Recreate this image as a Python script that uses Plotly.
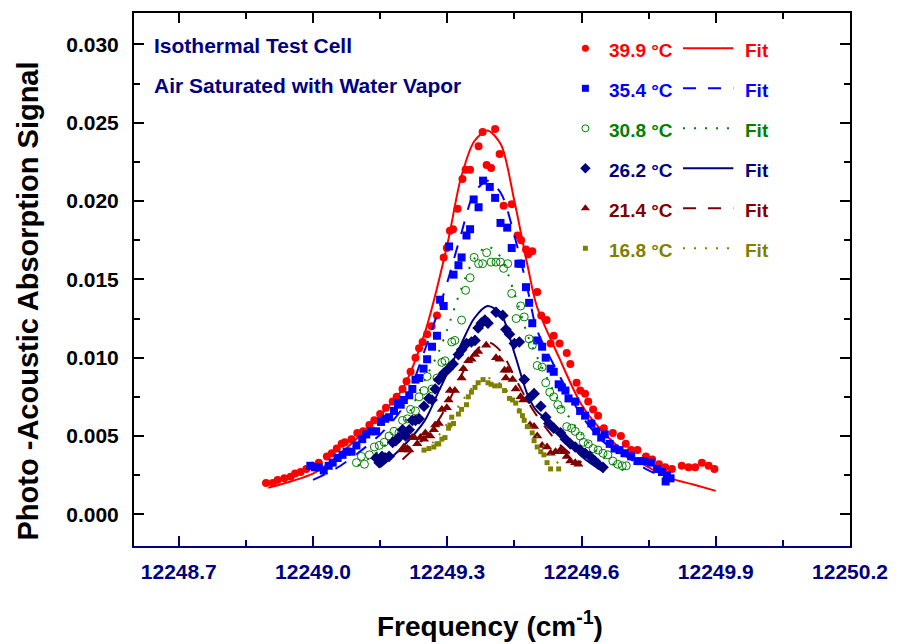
import plotly.graph_objects as go

# ---------------- data ----------------
x_tick_labels = ["12248.7", "12249.0", "12249.3", "12249.6", "12249.9", "12250.2"]
y_tick_labels = ["0.000", "0.005", "0.010", "0.015", "0.020", "0.025", "0.030"]
temps = ["39.9", "35.4", "30.8", "26.2", "21.4", "16.8"]

red_x = [12248.895, 12248.910, 12248.921, 12248.936, 12248.950, 12248.960, 12248.972, 12248.985, 12248.998, 12249.013,
         12249.031, 12249.042, 12249.053, 12249.064, 12249.071, 12249.086, 12249.099, 12249.112, 12249.126, 12249.137,
         12249.150, 12249.163, 12249.178, 12249.187, 12249.200, 12249.209, 12249.218, 12249.229, 12249.237, 12249.245,
         12249.255, 12249.265, 12249.277, 12249.292, 12249.299, 12249.306, 12249.313, 12249.323, 12249.334, 12249.341,
         12249.351, 12249.370, 12249.379, 12249.388, 12249.398, 12249.407, 12249.417, 12249.426, 12249.444, 12249.457,
         12249.465, 12249.476, 12249.481, 12249.490, 12249.501, 12249.510, 12249.522, 12249.531, 12249.538, 12249.551,
         12249.567, 12249.575, 12249.589, 12249.597, 12249.608, 12249.615, 12249.626, 12249.637, 12249.650, 12249.670,
         12249.688, 12249.699, 12249.711, 12249.725, 12249.744, 12249.758, 12249.773, 12249.787, 12249.802, 12249.824,
         12249.839, 12249.854, 12249.869, 12249.884, 12249.897]
red_y = [0.0020, 0.0020, 0.0022, 0.0023, 0.0024, 0.0026, 0.0027, 0.0029, 0.0031, 0.0033,
         0.0037, 0.0039, 0.0042, 0.0045, 0.0046, 0.0048, 0.0052, 0.0053, 0.0057, 0.0060,
         0.0064, 0.0068, 0.0072, 0.0075, 0.0080, 0.0085, 0.0091, 0.0100, 0.0106, 0.0110,
         0.0115, 0.0120, 0.0127, 0.0164, 0.0170, 0.0181, 0.0182, 0.0195, 0.0214, 0.0220,
         0.0220, 0.0235, 0.0244, 0.0223, 0.0221, 0.0246, 0.0230, 0.0197, 0.0198, 0.0178,
         0.0175, 0.0169, 0.0166, 0.0168, 0.0142, 0.0127, 0.0124, 0.0109, 0.0114, 0.0109,
         0.0103, 0.0096, 0.0084, 0.0079, 0.0077, 0.0072, 0.0067, 0.0063, 0.0055, 0.0052,
         0.0050, 0.0045, 0.0041, 0.0041, 0.0037, 0.0035, 0.0032, 0.0030, 0.0029, 0.0031,
         0.0030, 0.0030, 0.0033, 0.0031, 0.0029]

blue_x = [12248.994, 12249.004, 12249.013, 12249.024, 12249.035, 12249.044, 12249.055, 12249.066, 12249.075, 12249.086,
          12249.097, 12249.110, 12249.119, 12249.130, 12249.141, 12249.152, 12249.161, 12249.170, 12249.181, 12249.190,
          12249.196, 12249.203, 12249.215, 12249.222, 12249.229, 12249.237, 12249.247, 12249.255, 12249.266, 12249.277,
          12249.284, 12249.292, 12249.304, 12249.314, 12249.325, 12249.332, 12249.343, 12249.351, 12249.359, 12249.370,
          12249.380, 12249.395, 12249.407, 12249.419, 12249.434, 12249.444, 12249.459, 12249.465, 12249.476, 12249.483,
          12249.490, 12249.501, 12249.512, 12249.520, 12249.531, 12249.538, 12249.549, 12249.556, 12249.564, 12249.571,
          12249.586, 12249.597, 12249.608, 12249.622, 12249.633, 12249.644, 12249.652, 12249.663, 12249.674, 12249.685,
          12249.696, 12249.711, 12249.725, 12249.740, 12249.755, 12249.769, 12249.780, 12249.791, 12249.799, 12249.788]
blue_y = [0.0031, 0.0030, 0.0030, 0.0028, 0.0031, 0.0033, 0.0036, 0.0038, 0.0040, 0.0040,
          0.0044, 0.0048, 0.0051, 0.0053, 0.0053, 0.0059, 0.0061, 0.0062, 0.0066, 0.0071,
          0.0070, 0.0073, 0.0076, 0.0080, 0.0086, 0.0087, 0.0093, 0.0099, 0.0107, 0.0114,
          0.0137, 0.0133, 0.0171, 0.0153, 0.0159, 0.0164, 0.0178, 0.0182, 0.0201, 0.0196,
          0.0213, 0.0209, 0.0202, 0.0186, 0.0183, 0.0170, 0.0160, 0.0160, 0.0145, 0.0135,
          0.0122, 0.0111, 0.0107, 0.0100, 0.0093, 0.0091, 0.0083, 0.0081, 0.0079, 0.0074,
          0.0072, 0.0066, 0.0063, 0.0058, 0.0053, 0.0049, 0.0051, 0.0045, 0.0042, 0.0041,
          0.0039, 0.0037, 0.0034, 0.0034, 0.0033, 0.0029, 0.0027, 0.0025, 0.0023, 0.0021]

green_x = [12249.097, 12249.108, 12249.115, 12249.126, 12249.137, 12249.148, 12249.159, 12249.170, 12249.181, 12249.192,
           12249.200, 12249.211, 12249.218, 12249.229, 12249.237, 12249.248, 12249.255, 12249.266, 12249.277, 12249.288,
           12249.295, 12249.310, 12249.317, 12249.332, 12249.341, 12249.351, 12249.360, 12249.370, 12249.379, 12249.388,
           12249.398, 12249.409, 12249.419, 12249.426, 12249.435, 12249.444, 12249.454, 12249.464, 12249.472, 12249.483,
           12249.490, 12249.501, 12249.512, 12249.520, 12249.529, 12249.538, 12249.547, 12249.554, 12249.567, 12249.578,
           12249.586, 12249.597, 12249.604, 12249.615, 12249.626, 12249.637, 12249.648, 12249.659, 12249.670, 12249.681,
           12249.691, 12249.700]
green_y = [0.0033, 0.0037, 0.0032, 0.0038, 0.0043, 0.0044, 0.0046, 0.0050, 0.0053, 0.0052,
           0.0060, 0.0061, 0.0067, 0.0066, 0.0075, 0.0079, 0.0088, 0.0080, 0.0087, 0.0097,
           0.0098, 0.0110, 0.0111, 0.0124, 0.0143, 0.0151, 0.0164, 0.0160, 0.0160, 0.0167,
           0.0161, 0.0161, 0.0161, 0.0157, 0.0160, 0.0141, 0.0125, 0.0133, 0.0126, 0.0112,
           0.0108, 0.0095, 0.0094, 0.0084, 0.0078, 0.0075, 0.0070, 0.0067, 0.0056, 0.0055,
           0.0053, 0.0050, 0.0046, 0.0045, 0.0042, 0.0041, 0.0039, 0.0038, 0.0034, 0.0032,
           0.0031, 0.0031]

navy_x = [12249.141, 12249.148, 12249.154, 12249.161, 12249.170, 12249.178, 12249.185, 12249.192, 12249.200, 12249.207,
          12249.215, 12249.222, 12249.229, 12249.237, 12249.248, 12249.259, 12249.266, 12249.273, 12249.281, 12249.292,
          12249.303, 12249.313, 12249.325, 12249.332, 12249.343, 12249.354, 12249.362, 12249.369, 12249.376, 12249.384,
          12249.391, 12249.409, 12249.424, 12249.431, 12249.439, 12249.450, 12249.461, 12249.472, 12249.483, 12249.494,
          12249.509, 12249.520, 12249.527, 12249.538, 12249.553, 12249.564, 12249.575, 12249.586, 12249.597, 12249.608,
          12249.619, 12249.630, 12249.637, 12249.648]
navy_y = [0.0036, 0.0033, 0.0037, 0.0036, 0.0037, 0.0046, 0.0047, 0.0049, 0.0054, 0.0050,
          0.0054, 0.0060, 0.0060, 0.0061, 0.0069, 0.0074, 0.0073, 0.0080, 0.0086, 0.0090,
          0.0093, 0.0096, 0.0102, 0.0105, 0.0109, 0.0110, 0.0111, 0.0119, 0.0122, 0.0124,
          0.0122, 0.0129, 0.0127, 0.0118, 0.0115, 0.0109, 0.0110, 0.0086, 0.0074, 0.0077,
          0.0069, 0.0062, 0.0058, 0.0055, 0.0052, 0.0048, 0.0045, 0.0043, 0.0041, 0.0039,
          0.0037, 0.0034, 0.0032, 0.0030]

darkred_x = [12249.200, 12249.203, 12249.211, 12249.215, 12249.222, 12249.226, 12249.233, 12249.240, 12249.248, 12249.251,
             12249.262, 12249.270, 12249.273, 12249.281, 12249.288, 12249.299, 12249.303, 12249.306, 12249.317, 12249.332,
             12249.336, 12249.347, 12249.354, 12249.362, 12249.369, 12249.387, 12249.409, 12249.417, 12249.428, 12249.435,
             12249.431, 12249.446, 12249.453, 12249.464, 12249.470, 12249.485, 12249.494, 12249.501, 12249.512, 12249.523,
             12249.531, 12249.542, 12249.553, 12249.560, 12249.567, 12249.575, 12249.586, 12249.593]
darkred_y = [0.0041, 0.0043, 0.0042, 0.0041, 0.0049, 0.0049, 0.0045, 0.0049, 0.0048, 0.0052,
             0.0050, 0.0054, 0.0057, 0.0058, 0.0067, 0.0068, 0.0073, 0.0079, 0.0079, 0.0087,
             0.0093, 0.0098, 0.0099, 0.0102, 0.0104, 0.0108, 0.0100, 0.0099, 0.0092, 0.0092,
             0.0087, 0.0086, 0.0080, 0.0075, 0.0073, 0.0057, 0.0056, 0.0050, 0.0044, 0.0043,
             0.0039, 0.0040, 0.0041, 0.0040, 0.0037, 0.0034, 0.0033, 0.0032]

olive_x = [12249.248, 12249.259, 12249.270, 12249.277, 12249.281, 12249.288, 12249.295, 12249.303, 12249.306, 12249.310,
           12249.314, 12249.325, 12249.332, 12249.343, 12249.347, 12249.354, 12249.362, 12249.369, 12249.380, 12249.391,
           12249.398, 12249.406, 12249.417, 12249.428, 12249.439, 12249.446, 12249.453, 12249.461, 12249.468, 12249.472,
           12249.479, 12249.490, 12249.494, 12249.501, 12249.509, 12249.516, 12249.523, 12249.531, 12249.549]
olive_y = [0.0041, 0.0042, 0.0043, 0.0045, 0.0045, 0.0048, 0.0049, 0.0055, 0.0057, 0.0062,
           0.0058, 0.0064, 0.0067, 0.0070, 0.0075, 0.0078, 0.0081, 0.0084, 0.0086, 0.0084,
           0.0083, 0.0082, 0.0082, 0.0079, 0.0074, 0.0073, 0.0071, 0.0066, 0.0063, 0.0060,
           0.0056, 0.0052, 0.0047, 0.0043, 0.0040, 0.0038, 0.0033, 0.0029, 0.0029]

red_fit_x = [12248.90, 12248.95, 12249.00, 12249.05, 12249.10, 12249.15, 12249.20, 12249.25, 12249.30, 12249.33,
             12249.36, 12249.39, 12249.42, 12249.45, 12249.48, 12249.50, 12249.55, 12249.60, 12249.65, 12249.70,
             12249.75, 12249.80, 12249.85, 12249.90]
red_fit_y = [0.0017, 0.0021, 0.0026, 0.0036, 0.0049, 0.0063, 0.0080, 0.0116, 0.0172, 0.0214,
             0.0238, 0.0245, 0.0236, 0.0200, 0.0158, 0.0133, 0.0100, 0.0070, 0.0052, 0.0039,
             0.0030, 0.0023, 0.0019, 0.0015]

blue_fit_x = [12249.00, 12249.05, 12249.10, 12249.15, 12249.20, 12249.25, 12249.28, 12249.30, 12249.33, 12249.36,
              12249.39, 12249.42, 12249.45, 12249.48, 12249.50, 12249.55, 12249.60, 12249.65, 12249.70, 12249.75,
              12249.80]
blue_fit_y = [0.0022, 0.0029, 0.0039, 0.0051, 0.0068, 0.0105, 0.0130, 0.0148, 0.0178, 0.0205,
              0.0213, 0.0205, 0.0178, 0.0143, 0.0118, 0.0089, 0.0063, 0.0046, 0.0037, 0.0028,
              0.0022]

green_fit_x = [12249.10, 12249.15, 12249.20, 12249.25, 12249.28, 12249.30, 12249.33, 12249.36, 12249.39, 12249.42,
               12249.45, 12249.48, 12249.50, 12249.55, 12249.60, 12249.65, 12249.70]
green_fit_y = [0.0031, 0.0041, 0.0057, 0.0086, 0.0103, 0.0118, 0.0143, 0.0163, 0.0171, 0.0164,
               0.0141, 0.0114, 0.0101, 0.0072, 0.0051, 0.0036, 0.0027]

navy_fit_x = [12249.15, 12249.20, 12249.25, 12249.28, 12249.30, 12249.33, 12249.36, 12249.39, 12249.42, 12249.45,
              12249.48, 12249.50, 12249.55, 12249.60, 12249.65]
navy_fit_y = [0.0030, 0.0043, 0.0060, 0.0078, 0.0090, 0.0108, 0.0125, 0.0133, 0.0128, 0.0103,
              0.0076, 0.0066, 0.0054, 0.0037, 0.0027]

darkred_fit_x = [12249.20, 12249.25, 12249.28, 12249.30, 12249.33, 12249.36, 12249.39, 12249.42, 12249.45, 12249.48,
                 12249.50, 12249.55, 12249.60]
darkred_fit_y = [0.0035, 0.0049, 0.0060, 0.0070, 0.0088, 0.0103, 0.0110, 0.0104, 0.0088, 0.0072,
                 0.0063, 0.0045, 0.0033]

olive_fit_x = [12249.25, 12249.28, 12249.30, 12249.33, 12249.36, 12249.39, 12249.42, 12249.45, 12249.48, 12249.50,
               12249.53, 12249.55]
olive_fit_y = [0.0040, 0.0050, 0.0058, 0.0071, 0.0082, 0.0087, 0.0083, 0.0072, 0.0058, 0.0050,
               0.0038, 0.0032]

# ---------------- styles ----------------
FONT = "Liberation Sans, Arial, Helvetica, sans-serif"
NAVY = "#000080"

series = [
    dict(t=temps[0], x=red_x, y=red_y, fx=red_fit_x, fy=red_fit_y, color="#FF0000",
         symbol="circle", size=8, dash="solid"),
    dict(t=temps[1], x=blue_x, y=blue_y, fx=blue_fit_x, fy=blue_fit_y, color="#0000FF",
         symbol="square", size=8, dash="13px,12px"),
    dict(t=temps[2], x=green_x, y=green_y, fx=green_fit_x, fy=green_fit_y, color="#008000",
         symbol="circle-open", size=8, dash="2px,9px"),
    dict(t=temps[3], x=navy_x, y=navy_y, fx=navy_fit_x, fy=navy_fit_y, color=NAVY,
         symbol="diamond", size=9, dash="solid"),
    dict(t=temps[4], x=darkred_x, y=darkred_y, fx=darkred_fit_x, fy=darkred_fit_y, color="#800000",
         symbol="triangle-up", size=9, dash="13px,12px"),
    dict(t=temps[5], x=olive_x, y=olive_y, fx=olive_fit_x, fy=olive_fit_y, color="#808000",
         symbol="square", size=5, dash="2px,9px"),
]

for s in series:
    assert len(s["x"]) == len(s["y"]), s["t"]
    assert len(s["fx"]) == len(s["fy"]), s["t"]

fig = go.Figure()

for s in series:
    fig.add_trace(go.Scatter(
        x=s["x"], y=s["y"], mode="markers", showlegend=False, hoverinfo="skip",
        marker=dict(symbol=s["symbol"], size=s["size"], color=s["color"],
                    line=dict(width=1 if s["symbol"] == "circle-open" else 0, color=s["color"]))))
    fig.add_trace(go.Scatter(
        x=s["fx"], y=s["fy"], mode="lines", showlegend=False, hoverinfo="skip",
        line=dict(color=s["color"], width=2, dash=s["dash"], shape="spline", smoothing=0.8)))

# ---------------- custom legend (overlay axes 0..1) ----------------
L, R, T, B = 134, 40, 13, 98
W, H = 900 - L - R, 644 - T - B

def px_x(p):
    return (p - L) / W

def px_y(p):
    return (644 - B - p) / H

row_py = [48.3 + 40 * i for i in range(len(series))]
annotations = []
for s, py in zip(series, row_py):
    yy = px_y(py)
    fig.add_trace(go.Scatter(
        x=[px_x(591.7)], y=[yy], xaxis="x2", yaxis="y2", mode="markers", showlegend=False,
        hoverinfo="skip",
        marker=dict(symbol=s["symbol"], size=s["size"] - 1 if s["size"] > 6 else s["size"],
                    color=s["color"],
                    line=dict(width=1 if s["symbol"] == "circle-open" else 0, color=s["color"]))))
    fig.add_trace(go.Scatter(
        x=[px_x(690.7), px_x(741.7)], y=[yy, yy], xaxis="x2", yaxis="y2", mode="lines",
        showlegend=False, hoverinfo="skip",
        line=dict(color=s["color"], width=2, dash=s["dash"])))
    annotations.append(dict(x=px_x(614), y=px_y(py + 2), xref="paper", yref="paper",
                            xanchor="left", yanchor="middle", showarrow=False,
                            text=s["t"] + " °C",
                            font=dict(family=FONT, size=19, color=s["color"], weight="bold")))
    annotations.append(dict(x=px_x(751), y=px_y(py + 2), xref="paper", yref="paper",
                            xanchor="left", yanchor="middle", showarrow=False, text="Fit",
                            font=dict(family=FONT, size=19, color=s["color"], weight="bold")))

annotations += [
    dict(x=px_x(152), y=px_y(45.5), xref="paper", yref="paper", xanchor="left", yanchor="middle",
         showarrow=False, text="Isothermal Test Cell",
         font=dict(family=FONT, size=21, color=NAVY, weight="bold")),
    dict(x=px_x(152), y=px_y(86), xref="paper", yref="paper", xanchor="left", yanchor="middle",
         showarrow=False, text="Air Saturated with Water Vapor",
         font=dict(family=FONT, size=21, color=NAVY, weight="bold")),
    dict(x=px_x(495), y=px_y(624), xref="paper", yref="paper", xanchor="center", yanchor="middle",
         showarrow=False, text="Frequency (cm<sup>-1</sup>)",
         font=dict(family=FONT, size=28, color="black", weight="bold")),
    dict(x=px_x(27), y=px_y(301), xref="paper", yref="paper", xanchor="center", yanchor="middle",
         showarrow=False, textangle=-90, text="Photo -Acoustic Absorption Signal",
         font=dict(family=FONT, size=29, color="black", weight="bold")),
]

x_vals = [float(v) for v in x_tick_labels]
x_minor = [(a + b) / 2 for a, b in zip(x_vals[:-1], x_vals[1:])]
y_vals = [float(v) for v in y_tick_labels]
y_minor = [(a + b) / 2 for a, b in zip(y_vals[:-1], y_vals[1:])] + [y_vals[-1] + (y_vals[1] - y_vals[0]) / 2]
x_range = [12248.6, 12250.2]
y_range = [-0.00202, 0.0320]

fig.update_layout(
    width=900, height=644,
    margin=dict(l=L, r=R, t=T, b=B, pad=0),
    paper_bgcolor="white", plot_bgcolor="white",
    showlegend=False,
    font=dict(family=FONT, color="black"),
    xaxis=dict(range=x_range, tickmode="array", tickvals=x_vals, ticktext=x_tick_labels,
               ticks="inside", ticklen=10, tickwidth=2, tickcolor=NAVY,
               showline=True, linecolor=NAVY, linewidth=2, showgrid=False, zeroline=False,
               tickfont=dict(family=FONT, size=21, color=NAVY, weight="bold"),
               ticklabelstandoff=6,
               minor=dict(tickmode="array", tickvals=x_minor, ticks="inside", ticklen=6,
                          tickwidth=2, tickcolor=NAVY, showgrid=False)),
    xaxis3=dict(range=x_range, overlaying="x", side="top", anchor="y", tickmode="array",
                tickvals=x_vals, showticklabels=False,
                ticks="inside", ticklen=10, tickwidth=2, tickcolor="black",
                showline=True, linecolor="black", linewidth=2, showgrid=False, zeroline=False,
                minor=dict(tickmode="array", tickvals=x_minor, ticks="inside", ticklen=6,
                           tickwidth=2, tickcolor="black", showgrid=False)),
    yaxis=dict(range=y_range, tickmode="array", tickvals=y_vals, ticktext=y_tick_labels,
               ticks="inside", ticklen=10, tickwidth=2, tickcolor="black",
               showline=True, linecolor="black", linewidth=2, mirror="ticks",
               showgrid=False, zeroline=False,
               tickfont=dict(family=FONT, size=21, color="black", weight="bold"),
               ticklabelstandoff=9,
               minor=dict(tickmode="array", tickvals=y_minor, ticks="inside", ticklen=6,
                          tickwidth=2, tickcolor="black", showgrid=False)),
    xaxis2=dict(range=[0, 1], overlaying="x", visible=False, anchor="y2"),
    yaxis2=dict(range=[0, 1], overlaying="y", visible=False, anchor="x2"),
    annotations=annotations,
)

# invisible anchor trace so the top (mirror) axis is drawn
fig.add_trace(go.Scatter(x=red_fit_x[:1], y=red_fit_y[:1], xaxis="x3", yaxis="y",
                         mode="markers", marker=dict(opacity=0), showlegend=False,
                         hoverinfo="skip"))

fig.write_html("out.html")
